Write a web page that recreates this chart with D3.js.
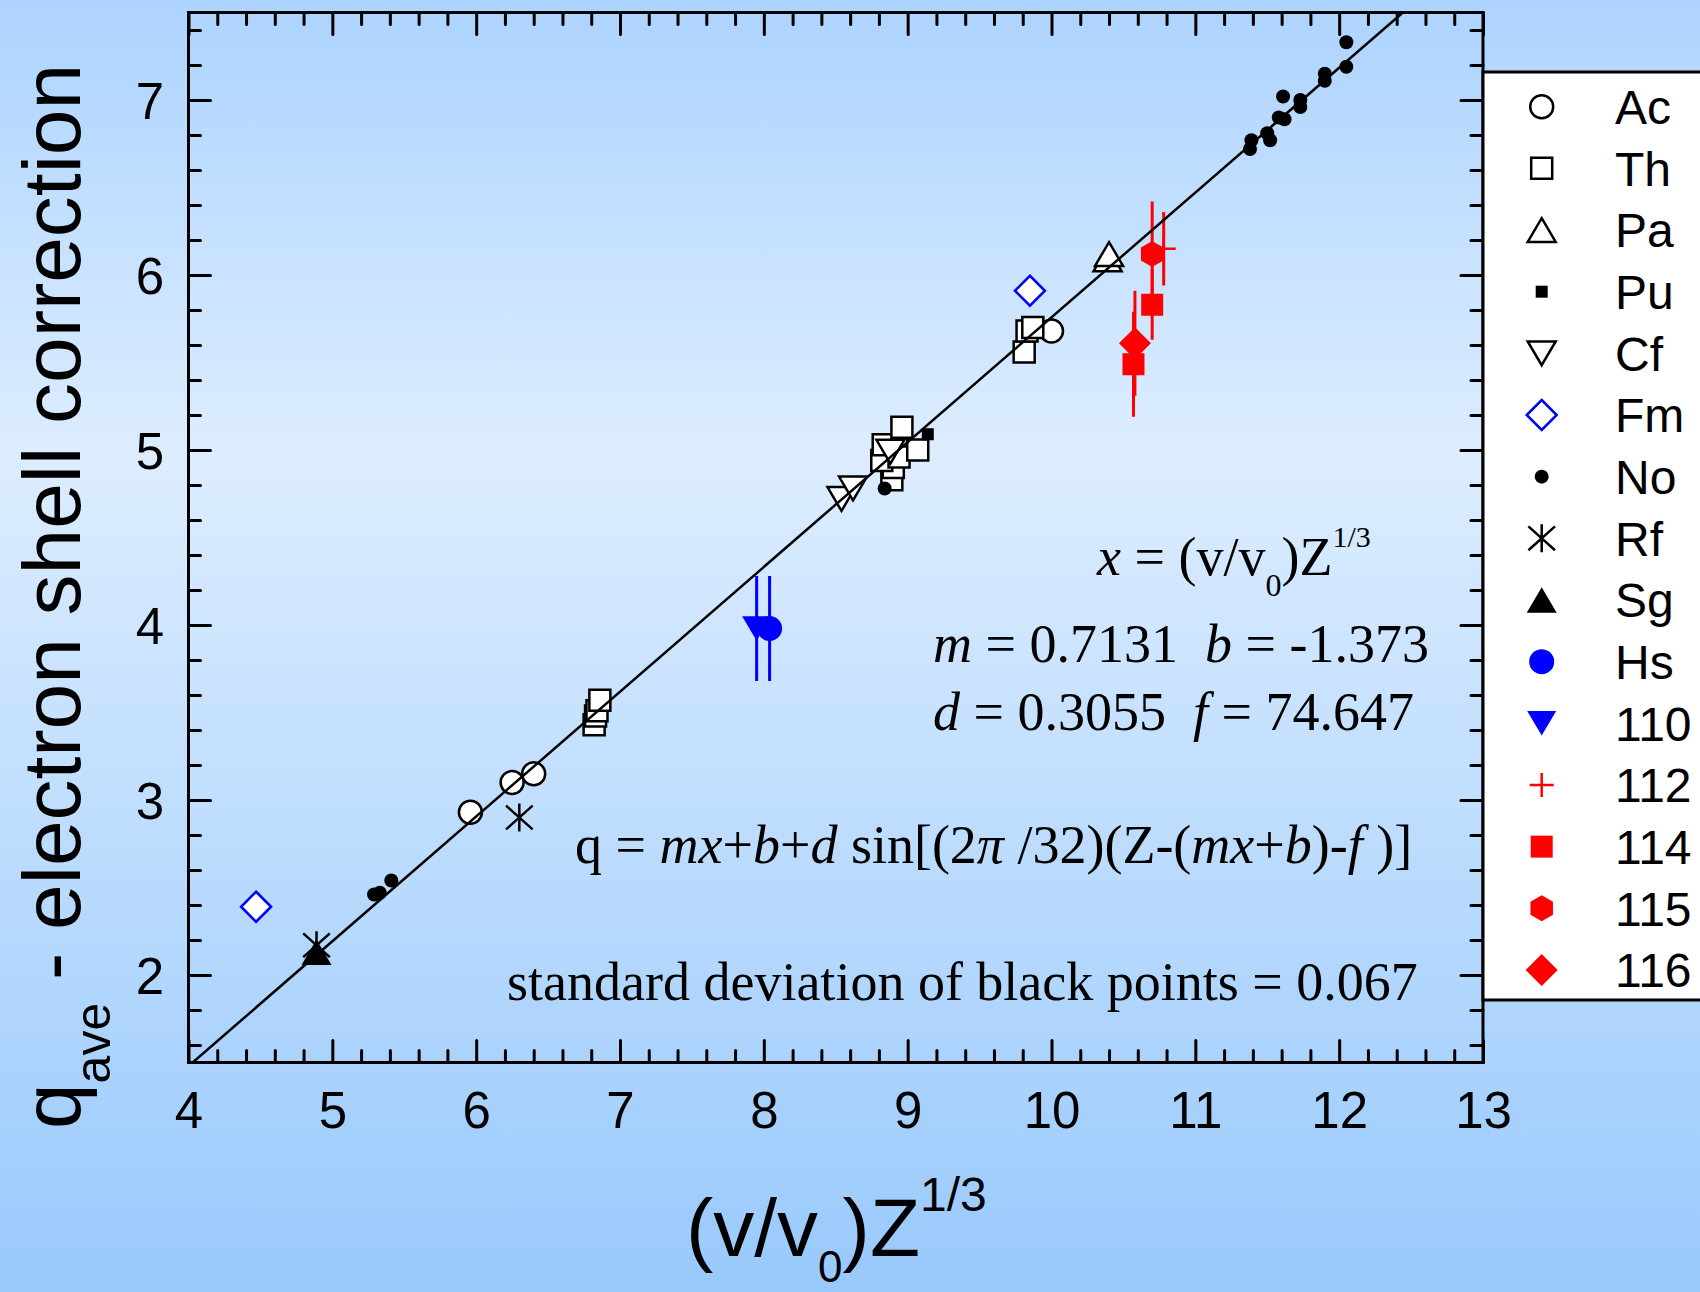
<!DOCTYPE html>
<html>
<head>
<meta charset="utf-8">
<script src="https://cdn.jsdelivr.net/npm/d3@7"></script>
<style>
html, body { margin: 0; padding: 0; }
svg { display: block; }
text { white-space: pre; }
</style>
</head>
<body>
<div id="chart"></div>
<script>
// tick labels
var xMajor = [4, 5, 6, 7, 8, 9, 10, 11, 12, 13];
var yMajor = [2, 3, 4, 5, 6, 7];

// points, [x, q]
var acPts = [[5.96, 2.93], [6.25, 3.10], [6.40, 3.15], [10.00, 5.68]];
var thPts = [[6.82, 3.43], [6.83, 3.48], [6.84, 3.51], [6.86, 3.57],
             [8.89, 4.83], [8.90, 4.90], [8.82, 4.94], [8.94, 4.96], [9.07, 5.00],
             [8.83, 5.03], [8.96, 5.13], [9.81, 5.56], [9.83, 5.68], [9.87, 5.70]];
var paPts = [[10.39, 6.09], [10.40, 6.12]];
var puPts = [[9.14, 5.09]];
var cfPts = [[8.54, 4.72], [8.62, 4.78], [8.88, 4.99]];
var fmPts = [[4.47, 2.39], [9.85, 5.91]];
var noPts = [[5.29, 2.46], [5.33, 2.47], [5.41, 2.54], [8.84, 4.78],
             [11.38, 6.72], [11.39, 6.77], [11.50, 6.81], [11.52, 6.77],
             [11.58, 6.90], [11.62, 6.89], [11.61, 7.02], [11.73, 6.96],
             [11.73, 7.00], [11.90, 7.11], [11.90, 7.15], [12.05, 7.19], [12.05, 7.33]];
var rfPts = [[4.89, 2.17], [6.30, 2.90]];
var sgPts = [[4.89, 2.13]];
// with error bars, [x, q, err]
var hsPts = [[8.04, 3.98, 0.30]];
var e110Pts = [[7.95, 3.98, 0.30]];
var e112Pts = [[10.78, 6.15, 0.21]];
var e114Pts = [[10.70, 5.83, 0.20], [10.57, 5.49, 0.30]];
var e115Pts = [[10.70, 6.12, 0.30]];
var e116Pts = [[10.58, 5.61, 0.30]];

// fit line q = m x + b
var fitM = 0.7131, fitB = -1.373;

var seriesNames = ["Ac", "Th", "Pa", "Pu", "Cf", "Fm", "No", "Rf", "Sg", "Hs", "110", "112", "114", "115", "116"];
var seriesPts = [acPts, thPts, paPts, puPts, cfPts, fmPts, noPts, rfPts, sgPts, hsPts, e110Pts, e112Pts, e114Pts, e115Pts, e116Pts];

// marker shapes, size parameter is a half width in px
var shapes = {
    circle: { draw: function(c, r) { c.moveTo(r, 0); c.arc(0, 0, r, 0, 2 * Math.PI); } },
    square: { draw: function(c, r) { c.rect(-r, -r, 2 * r, 2 * r); } },
    triUp: { draw: function(c, r) { var h = r * 0.85; c.moveTo(0, -h); c.lineTo(r, h); c.lineTo(-r, h); c.closePath(); } },
    triDown: { draw: function(c, r) { var h = r * 0.85; c.moveTo(0, h); c.lineTo(r, -h); c.lineTo(-r, -h); c.closePath(); } },
    diamond: { draw: function(c, r) { c.moveTo(0, -r); c.lineTo(r, 0); c.lineTo(0, r); c.lineTo(-r, 0); c.closePath(); } },
    hexagon: { draw: function(c, r) {
        for (var k = 0; k < 6; k++) {
            var a = -Math.PI / 2 + k * Math.PI / 3;
            if (k == 0) c.moveTo(r * Math.cos(a), r * Math.sin(a)); else c.lineTo(r * Math.cos(a), r * Math.sin(a));
        }
        c.closePath();
    } },
    plus: { draw: function(c, r) { c.moveTo(-r, 0); c.lineTo(r, 0); c.moveTo(0, -r); c.lineTo(0, r); } },
    // vertical bar plus two steep diagonals, like the original
    asterisk: { draw: function(c, r) {
        c.moveTo(0, -r); c.lineTo(0, r);
        c.moveTo(-r * 0.95, -r * 0.85); c.lineTo(r * 0.95, r * 0.85);
        c.moveTo(-r * 0.95, r * 0.85); c.lineTo(r * 0.95, -r * 0.85);
    } }
};

var styles = {
    "Ac":  {shape: "circle",   r: 11.5, fill: "#fff", stroke: "#000"},
    "Th":  {shape: "square",   r: 10.5, fill: "#fff", stroke: "#000"},
    "Pa":  {shape: "triUp",    r: 14,   fill: "#fff", stroke: "#000"},
    "Pu":  {shape: "square",   r: 6,    fill: "#000", stroke: "none"},
    "Cf":  {shape: "triDown",  r: 14,   fill: "#fff", stroke: "#000"},
    "Fm":  {shape: "diamond",  r: 15,   fill: "#fff", stroke: "#0000ff"},
    "No":  {shape: "circle",   r: 7,    fill: "#000", stroke: "none"},
    "Rf":  {shape: "asterisk", r: 14,   fill: "none", stroke: "#000"},
    "Sg":  {shape: "triUp",    r: 15,   fill: "#000", stroke: "none"},
    "Hs":  {shape: "circle",   r: 12.5, fill: "#0000ff", stroke: "none"},
    "110": {shape: "triDown",  r: 14.5, fill: "#0000ff", stroke: "none"},
    "112": {shape: "plus",     r: 12,   fill: "none", stroke: "#ff0000"},
    "114": {shape: "square",   r: 11,   fill: "#ff0000", stroke: "none"},
    "115": {shape: "hexagon",  r: 13,   fill: "#ff0000", stroke: "none"},
    "116": {shape: "diamond",  r: 16,   fill: "#ff0000", stroke: "none"}
};

var W = 1700, H = 1292;
var plot = {left: 188.5, right: 1483, top: 12.5, bottom: 1062.5};
var sans = "'Liberation Sans', Arial, Helvetica, sans-serif";
var serif = "'Liberation Serif', 'Times New Roman', Times, serif";

var x = d3.scaleLinear().domain([4, 13]).range([plot.left, plot.right]);
var y = d3.scaleLinear().domain([1.5, 7.5]).range([plot.bottom, plot.top]);

var svg = d3.select("#chart").append("svg")
    .attr("width", W)
    .attr("height", H);

// background gradient
var defs = svg.append("defs");
var grad = defs.append("linearGradient").attr("id", "bg")
    .attr("x1", 0).attr("y1", 0).attr("x2", 0).attr("y2", 1);
grad.append("stop").attr("offset", "0%").attr("stop-color", "rgb(172,211,255)");
grad.append("stop").attr("offset", "35%").attr("stop-color", "rgb(221,237,255)");
grad.append("stop").attr("offset", "100%").attr("stop-color", "rgb(152,201,252)");
svg.append("rect").attr("width", W).attr("height", H).attr("fill", "url(#bg)");

defs.append("clipPath").attr("id", "plotclip").append("rect")
    .attr("x", plot.left).attr("y", plot.top)
    .attr("width", plot.right - plot.left).attr("height", plot.bottom - plot.top);

// ****************** axes ******************
var xMinor = d3.range(4, 13.001, 0.2).filter(function(v) { return Math.abs(v - Math.round(v)) > 0.01; });
var yMinor = d3.range(1.6, 7.5, 0.2).filter(function(v) { return Math.abs(v - Math.round(v)) > 0.01; });

function addAxis(axis, translate, values, len, labels, pad) {
    var g = svg.append("g")
        .attr("transform", translate)
        .call(axis.tickValues(values).tickSizeInner(-len).tickSizeOuter(0)
            .tickPadding(pad || 0)
            .tickFormat(labels ? d3.format("d") : ""));
    g.select(".domain").remove();
    g.selectAll("line").attr("stroke", "#000").attr("stroke-width", 3).attr("stroke-linecap", "round");
    g.attr("font-size", 51).attr("font-family", sans);
    g.selectAll("text").attr("fill", "#000");
    return g;
}

addAxis(d3.axisBottom(x), "translate(0," + plot.bottom + ")", xMajor, 22, true, 29.5);
addAxis(d3.axisBottom(x), "translate(0," + plot.bottom + ")", xMinor, 12, false);
addAxis(d3.axisTop(x), "translate(0," + plot.top + ")", xMajor, 22, false);
addAxis(d3.axisTop(x), "translate(0," + plot.top + ")", xMinor, 12, false);
addAxis(d3.axisLeft(y), "translate(" + plot.left + ",0)", yMajor, 22, true, 24.5)
    .selectAll("text").attr("dy", "0.36em");
addAxis(d3.axisLeft(y), "translate(" + plot.left + ",0)", yMinor, 12, false);
addAxis(d3.axisRight(y), "translate(" + plot.right + ",0)", yMajor, 22, false);
addAxis(d3.axisRight(y), "translate(" + plot.right + ",0)", yMinor, 12, false);

svg.append("rect")
    .attr("x", plot.left).attr("y", plot.top)
    .attr("width", plot.right - plot.left).attr("height", plot.bottom - plot.top)
    .attr("fill", "none").attr("stroke", "#000").attr("stroke-width", 3);

// ****************** points ******************
var marks = svg.append("g").attr("clip-path", "url(#plotclip)");

seriesNames.forEach(function(name, i) {
    var st = styles[name];
    var pts = seriesPts[i];

    // error bars first
    marks.selectAll(null)
        .data(pts.filter(function(d) { return d.length > 2; }))
        .enter().append("line")
        .attr("x1", function(d) { return x(d[0]); })
        .attr("x2", function(d) { return x(d[0]); })
        .attr("y1", function(d) { return y(d[1] - d[2]); })
        .attr("y2", function(d) { return y(d[1] + d[2]); })
        .attr("stroke", st.fill != "none" && st.fill != "#fff" ? st.fill : st.stroke)
        .attr("stroke-width", 3);

    marks.selectAll(null)
        .data(pts)
        .enter().append("path")
        .attr("transform", function(d) { return "translate(" + x(d[0]) + "," + y(d[1]) + ")"; })
        .attr("d", d3.symbol().type(shapes[st.shape]).size(st.r))
        .attr("fill", st.fill)
        .attr("stroke", st.stroke)
        .attr("stroke-width", 2.5);
});

// fit line on top of the markers
var fitX = [4, (7.5 - fitB) / fitM];
marks.append("path")
    .datum(fitX)
    .attr("d", d3.line()
        .x(function(d) { return x(d); })
        .y(function(d) { return y(fitM * d + fitB); }))
    .attr("fill", "none")
    .attr("stroke", "#000")
    .attr("stroke-width", 2.5);

// ****************** legend ******************
var legendTop = 106.7, legendStep = 61.66;
svg.append("rect")
    .attr("x", plot.right).attr("y", 72)
    .attr("width", 260).attr("height", 928)
    .attr("fill", "#fff").attr("stroke", "#000").attr("stroke-width", 3);

var legend = svg.append("g");
seriesNames.forEach(function(name, i) {
    var st = styles[name];
    var ly = legendTop + i * legendStep;
    legend.append("path")
        .attr("transform", "translate(1541.7," + ly + ")")
        .attr("d", d3.symbol().type(shapes[st.shape]).size(st.r))
        .attr("fill", st.fill)
        .attr("stroke", st.stroke)
        .attr("stroke-width", 2.5);
    legend.append("text")
        .attr("x", 1615).attr("y", ly).attr("dy", "0.36em")
        .attr("font-family", sans).attr("font-size", 48)
        .text(name);
});

// ****************** axis titles ******************
var xt = svg.append("text")
    .attr("x", 686).attr("y", 1256)
    .attr("font-family", sans).attr("font-size", 82);
xt.append("tspan").text("(v/v");
xt.append("tspan").attr("font-size", 44).attr("dy", 26).text("0");
xt.append("tspan").attr("dy", -26).text(")Z");
xt.append("tspan").attr("font-size", 48).attr("dy", -45).text("1/3");

var yt = svg.append("text")
    .attr("transform", "translate(80,1129) rotate(-90)")
    .attr("font-family", sans).attr("font-size", 82);
yt.append("tspan").text("q");
yt.append("tspan").attr("font-size", 50).attr("dy", 30).text("ave");
yt.append("tspan").attr("dy", -30).text(" - electron shell correction");

// ****************** annotations ******************
var note = svg.append("g").attr("font-family", serif).attr("font-size", 54);

var t1 = note.append("text").attr("x", 1097).attr("y", 575);
t1.append("tspan").attr("font-style", "italic").text("x");
t1.append("tspan").text(" = (v/v");
t1.append("tspan").attr("font-size", 32).attr("dy", 21).text("0");
t1.append("tspan").attr("dy", -21).text(")Z");
t1.append("tspan").attr("font-size", 30).attr("dy", -28).text("1/3");

var t2 = note.append("text").attr("x", 933).attr("y", 662);
t2.append("tspan").attr("font-style", "italic").text("m");
t2.append("tspan").text(" = 0.7131  ");
t2.append("tspan").attr("font-style", "italic").text("b");
t2.append("tspan").text(" = -1.373");

var t3 = note.append("text").attr("x", 933).attr("y", 730);
t3.append("tspan").attr("font-style", "italic").text("d");
t3.append("tspan").text(" = 0.3055  ");
t3.append("tspan").attr("font-style", "italic").text("f");
t3.append("tspan").text(" = 74.647");

var t4 = note.append("text").attr("x", 575).attr("y", 863);
[["q = ", false], ["mx", true], ["+", false], ["b", true], ["+", false], ["d", true],
 [" sin[(2", false], ["\u03c0", true], [" /32)(Z-(", false], ["mx", true], ["+", false],
 ["b", true], [")-", false], ["f", true], [" )]", false]].forEach(function(p) {
    t4.append("tspan").attr("font-style", p[1] ? "italic" : "normal").text(p[0]);
});

note.append("text").attr("x", 507).attr("y", 1000)
    .text("standard deviation of black points = 0.067");
</script>
</body>
</html>
